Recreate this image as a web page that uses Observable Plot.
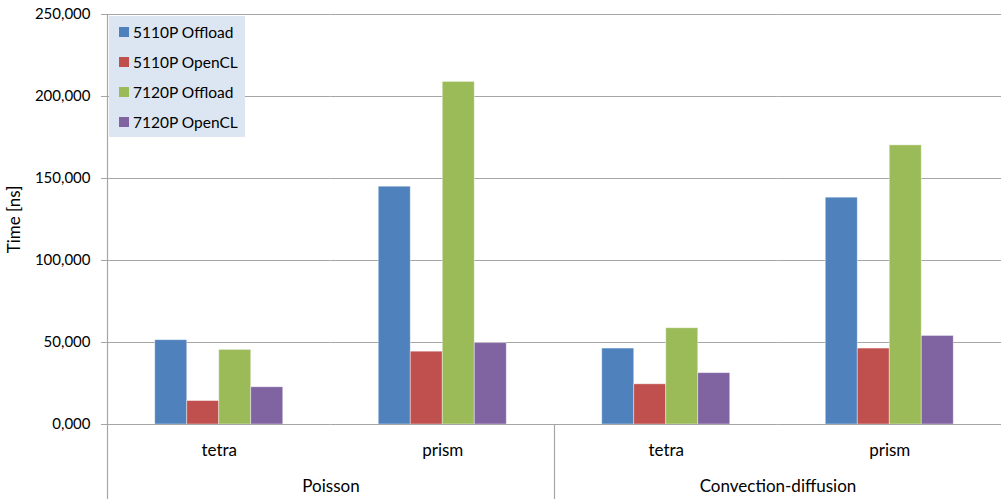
<!DOCTYPE html>
<html>
<head>
<meta charset="utf-8">
<script src="https://cdn.jsdelivr.net/npm/d3@7"></script>
<script src="https://cdn.jsdelivr.net/npm/@observablehq/plot@0.6"></script>
<style>
  body { margin: 0; background: #fff; }
  #wrap { position: relative; width: 1001px; height: 499px; font-family: Lato, "Noto Sans", sans-serif; }
  #wrap svg { position: absolute; left: 0; top: 0; }
  #legend { position: absolute; left: 109px; top: 16px; width: 136px; height: 121px; background: #DCE6F2; }
  .row { position: absolute; left: 10px; height: 20px; display: flex; align-items: center; font-size: 15.5px; color: #000; white-space: nowrap; }
  .sw { width: 10px; height: 10px; margin-right: 4px; }
</style>
</head>
<body>
<div id="wrap"><div id="legend"></div></div>
<script>
// ---- data ----
const groups = ["Poisson", "Convection-diffusion"];
const elements = ["tetra", "prism"];
const series = ["5110P Offload", "5110P OpenCL", "7120P Offload", "7120P OpenCL"];
const colors = ["#4F81BD", "#C0504D", "#9BBB59", "#8064A2"];
const yTicks = [0, 50, 100, 150, 200, 250];
const yLabel = "Time [ns]";
// order: Poisson tetra, Poisson prism, Convection-diffusion tetra, Convection-diffusion prism
const offload5110 = [51.4, 145.0, 46.3, 138.3];
const opencl5110  = [14.3, 44.4, 24.5, 46.3];
const offload7120 = [45.5, 208.9, 58.7, 170.2];
const opencl7120  = [22.7, 49.6, 31.3, 54.0];

const seriesValues = [offload5110, opencl5110, offload7120, opencl7120];
const categories = groups.flatMap(g => elements.map(e => g + "|" + e));
const rows = series.flatMap((s, i) => seriesValues[i].map((v, j) => ({cat: categories[j], series: s, value: v})));

// ---- layout ----
const W = 1001, H = 499, ML = 107, MR = 0, MT = 14, MB = 75;
const catWidth = (W - ML - MR) / categories.length;
const barStep = 32;
const padOuter = (catWidth / barStep - series.length) / 2;
const grid = "#A6A6A6";

const locale = d3.formatLocale({decimal: ",", thousands: ".", grouping: [3], currency: ["", ""]});
const fmt = locale.format(".3f");

const chart = Plot.plot({
  width: W, height: H,
  marginLeft: ML, marginRight: MR, marginTop: MT, marginBottom: MB,
  style: {fontFamily: "Lato, 'Noto Sans', sans-serif", fontSize: "15px", color: "#000", background: "transparent", overflow: "visible"},
  fx: {domain: categories, padding: 0, round: false},
  x: {domain: series, paddingInner: 0, paddingOuter: padOuter, round: false, axis: null},
  y: {domain: [0, 250]},
  color: {domain: series, range: colors},
  marks: [
    Plot.ruleY(yTicks.filter(d => d > 0), {stroke: grid, strokeWidth: 1.2}),
    Plot.barY(rows, {fx: "cat", x: "series", y: "value", fill: "series", stroke: "#fff", strokeOpacity: 0.5, strokeWidth: 0.8}),
    Plot.ruleY([0], {stroke: grid, strokeWidth: 1.2}),
    // y-axis line (left edge of first category), extended down through the category labels
    Plot.ruleX([categories[0]], {fx: d => d, x: null, dx: -catWidth / 2, insetBottom: -MB, stroke: grid, strokeWidth: 1.2}),
    // group separator between Poisson and Convection-diffusion
    Plot.ruleX([categories[2]], {fx: d => d, x: null, y1: 0, y2: 0, dx: -catWidth / 2, insetBottom: -MB, stroke: grid, strokeWidth: 1.2}),
    Plot.axisY(yTicks, {tickFormat: fmt, tickSize: 6, tickPadding: 11, stroke: grid, fill: "#000", label: null, fontSize: 15}),
    Plot.text([yLabel], {fx: () => categories[0], text: d => d, frameAnchor: "left", rotate: -90,
      textAnchor: "middle", lineAnchor: "top", dx: -100, fill: "#000", fontSize: 17}),
    Plot.axisFx({anchor: "bottom", tickFormat: d => d.split("|")[1], tickSize: 0, tickPadding: 19, label: null, fill: "#000", fontSize: 17}),
    Plot.text([categories[0], categories[2]], {fx: d => d, text: d => d.split("|")[0], frameAnchor: "bottom-right",
      textAnchor: "middle", lineAnchor: "top", dy: 55, fill: "#000", fontSize: 17})
  ]
});

const wrap = document.getElementById("wrap");
wrap.insertBefore(chart, wrap.firstChild);

// legend (overlaid at top-left of the plot area)
const legend = document.getElementById("legend");
series.forEach((s, i) => {
  const r = document.createElement("div");
  r.className = "row";
  r.style.top = (5.5 + i * 30) + "px";
  const sw = document.createElement("div");
  sw.className = "sw";
  sw.style.background = colors[i];
  const t = document.createElement("span");
  t.textContent = s;
  r.appendChild(sw); r.appendChild(t);
  legend.appendChild(r);
});
</script>
</body>
</html>
